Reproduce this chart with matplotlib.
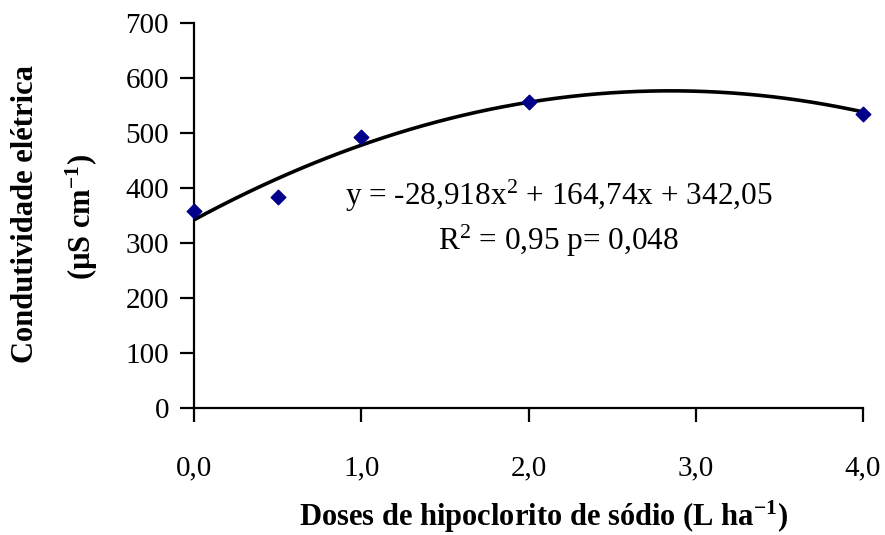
import numpy as np
import matplotlib
matplotlib.use("Agg")
import matplotlib.pyplot as plt

plt.rcParams['font.family'] = ['Liberation Serif', 'DejaVu Serif']
plt.rcParams['mathtext.fontset'] = 'custom'
plt.rcParams['mathtext.rm'] = 'Liberation Serif'
plt.rcParams['mathtext.it'] = 'Liberation Serif:italic'
plt.rcParams['mathtext.bf'] = 'Liberation Serif:bold'

# observed means
doses = [0.0, 0.5, 1.0, 2.0, 4.0]
condutividade = [358, 383, 492, 557, 535]

# quadratic fit shown on the chart: y = a x^2 + b x + c
coef = [-28.918, 164.74, 342.05]

xticks = [0, 1, 2, 3, 4]
xlabels = ["0,0", "1,0", "2,0", "3,0", "4,0"]
yticks = [0, 100, 200, 300, 400, 500, 600, 700]

fig = plt.figure(figsize=(8.85, 5.35), dpi=100)
ax = fig.add_axes([0.2192, 0.2374, 0.756, 0.7196])

xs = np.linspace(0, 4, 200)
ax.plot(xs, np.polyval(coef, xs), color="black", lw=2.6, zorder=2)
ax.scatter(doses, condutividade, marker="D", s=55, color="#00008B", zorder=3, clip_on=False)

ax.set_xlim(0, 4)
ax.set_ylim(0, 700)
ax.set_xticks(xticks)
ax.set_xticklabels(xlabels)
ax.set_yticks(yticks)

for s in ["top", "right"]:
    ax.spines[s].set_visible(False)
for s in ["left", "bottom"]:
    ax.spines[s].set_linewidth(1.6)

ax.tick_params(axis="both", direction="out", length=10, width=1.6, labelsize=21)
ax.tick_params(axis="x", pad=24)
ax.tick_params(axis="y", pad=8)

ax.text(2.18, 386, r"y = -28,918x$^{2}$ + 164,74x + 342,05", ha="center", va="center", fontsize=22.5)
ax.text(2.18, 303, r"R$^{2}$ = 0,95 p= 0,048", ha="center", va="center", fontsize=22.5)

ax.set_xlabel(r"Doses de hipoclorito de sódio (L ha$^{\mathbf{-1}}$)", fontsize=22, fontweight="bold", labelpad=13)
ax.xaxis.label.set_x(0.523)
fig.text(0.029, 0.60, "Condutividade elétrica", rotation=90, ha="center", va="center", fontsize=22, fontweight="bold")
fig.text(0.092, 0.595, r"(µS cm$^{\mathbf{-1}}$)", rotation=90, ha="center", va="center", fontsize=22, fontweight="bold")

fig.savefig("out.png", dpi=100)
